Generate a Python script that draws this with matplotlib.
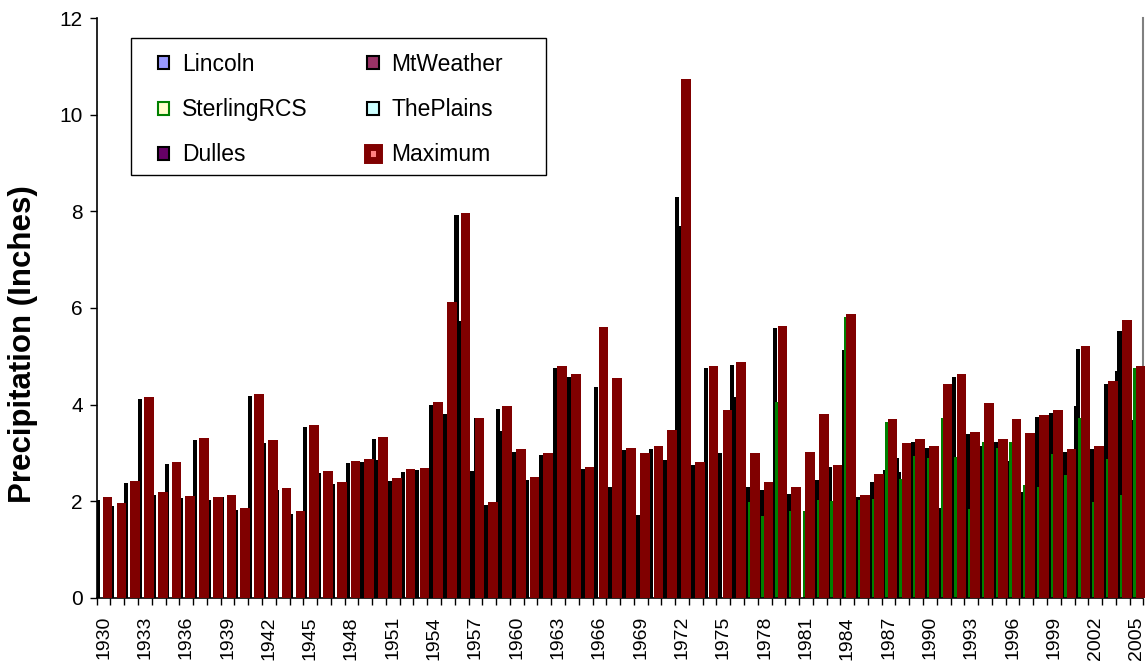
import numpy as np
import matplotlib.pyplot as plt
from matplotlib.patches import Patch, Rectangle

plt.rcParams['font.family'] = ['Liberation Sans', 'DejaVu Sans']

nan = np.nan
years = list(range(1930, 2006))

# 값은 그림에서 읽은 추정치 (인치)
maximum = [2.08, 1.96, 2.42, 4.16, 2.19, 2.81, 2.12, 3.31, 2.08, 2.13,
           1.87, 4.23, 3.26, 2.28, 1.79, 3.58, 2.62, 2.40, 2.83, 2.87,
           3.34, 2.48, 2.67, 2.69, 4.05, 6.12, 7.97, 3.73, 1.99, 3.98,
           3.08, 2.50, 3.01, 4.81, 4.63, 2.71, 5.60, 4.55, 3.11, 3.01,
           3.14, 3.48, 10.74, 2.81, 4.81, 3.88, 4.88, 3.00, 2.40, 5.63,
           2.30, 3.02, 3.81, 2.75, 5.87, 2.13, 2.57, 3.70, 3.21, 3.28,
           3.15, 4.42, 4.63, 3.44, 4.03, 3.28, 3.70, 3.41, 3.79, 3.88,
           3.08, 5.21, 3.14, 4.48, 5.75, 4.80]

lincoln = [2.03, 1.90, 2.37, 4.11, 2.14, 2.77, 2.06, 3.26, 2.03, 2.08,
           1.82, 4.18, 3.21, 2.23, 1.74, 3.53, 2.58, 2.36, nan, nan,
           3.29, nan, nan, nan, nan, nan, 7.92, nan, nan, 3.92,
           nan, nan, nan, nan, nan, nan, nan, nan, nan, nan,
           nan, nan, 8.29, nan, nan, nan, 4.82, nan, nan, nan,
           nan, nan, nan, nan, nan, nan, nan, nan, 2.89, nan,
           2.75, nan, nan, nan, nan, nan, nan, nan, nan, nan,
           nan, 3.98, nan, nan, 4.70, nan]

mtweather = [nan, nan, nan, nan, nan, nan, nan, nan, nan, nan,
             nan, nan, nan, nan, nan, nan, nan, nan, 2.79, 2.81,
             2.86, 2.43, 2.61, 2.64, 3.99, 3.81, 5.73, 2.63, 1.93, 3.46,
             3.03, 2.44, 2.96, 4.75, 4.58, 2.66, 4.36, 2.30, 3.06, 1.72,
             3.09, 2.86, 7.70, 2.75, 4.75, 3.01, 4.15, 2.30, 2.23, 5.58,
             2.15, nan, 2.44, 2.71, 5.13, 2.08, 2.41, 2.65, 2.61, 3.23,
             3.10, 1.87, 4.58, 3.39, 3.15, 3.23, 2.83, 2.19, 3.74, 3.82,
             3.03, 5.15, 3.08, 4.43, 5.53, 3.68]

sterling = [nan] * 47 + [1.99, 1.69, 4.05,
                         1.81, 1.80, 2.03, 2.00, 5.82, 2.03, 2.05, 3.65, 2.46, 2.93,
                         2.89, 3.72, 2.92, 1.84, 3.23, 3.10, 3.23, 2.33, 2.30, 2.97,
                         2.55, 3.73, 1.98, 2.88, 2.13, 4.75]

theplains = [nan] * 76
theplains[25] = 6.07   # 1955
theplains[27] = 3.73   # 1957
theplains[64] = 3.98   # 1994

dulles = [nan] * 76
for yr, v in [(1966, 5.60), (1967, 4.55), (1969, 3.01), (1971, 3.48), (1972, 10.74),
              (1975, 3.88), (1977, 3.00), (1981, 3.02), (1982, 3.81), (1986, 2.57),
              (1988, 3.21), (1991, 4.42), (1996, 3.70), (1997, 3.41)]:
    dulles[yr - 1930] = v

x = np.arange(len(years))

W, H = 1146, 662
fig = plt.figure(figsize=(W / 100, H / 100), dpi=100)
ax = fig.add_axes([0.0844, 0.0967, 0.9133, 0.8761])

# 관측소 막대 (겹쳐서 그림) + 최대값 막대
w = 0.30
ax.bar(x - 0.03, lincoln, w, align='edge', color='black', lw=0, zorder=2.0)
ax.bar(x + 0.12, mtweather, w, align='edge', color='black', lw=0, zorder=2.1)
ax.bar(x + 0.27, sterling, w, align='edge', color='#008000', lw=0, zorder=2.2)
ax.bar(x + 0.42, theplains, w, align='edge', color='black', lw=0, zorder=2.3)
ax.bar(x + 0.57, dulles, w, align='edge', color='black', lw=0, zorder=2.4)
bars = ax.bar(x + 0.44, maximum, 0.70, align='edge', color='#800000', lw=0, zorder=3)
for b in bars:
    b.set_clip_on(False)

ax.set_xlim(0, 76)
ax.set_ylim(0, 12)
ax.set_yticks(range(0, 13, 2))
ax.tick_params(axis='y', labelsize=15, length=5, width=1, pad=5)

ax.set_xticks(x + 0.5)
ax.set_xticklabels([str(y) if (y - 1930) % 3 == 0 else '' for y in years],
                   rotation=90, fontsize=14)
ax.set_xticks(np.arange(0, 77), minor=True)
ax.tick_params(axis='x', which='major', length=0, pad=13)
ax.tick_params(axis='x', which='minor', length=5, width=1)

ax.set_ylabel('Precipitation (Inches)', fontsize=22.5, fontweight='bold', va='center')
ax.yaxis.set_label_coords(-0.0709, 0.438)

ax.spines['top'].set_visible(False)
ax.spines['right'].set_color('#808080')
ax.spines['right'].set_linewidth(1.5)
ax.spines['left'].set_linewidth(1.2)
ax.spines['bottom'].set_linewidth(1.2)

# 범례 테두리는 따로 그림 (픽셀 위치 기준)
frame = Rectangle((131 / W, 1 - 175 / H), 415 / W, 137 / H, transform=fig.transFigure,
                  facecolor='white', edgecolor='black', lw=1, zorder=4)
fig.patches.append(frame)

handles = [
    Patch(facecolor='#9999FF', edgecolor='black', lw=1.5, label='Lincoln'),
    Patch(facecolor='#FFFFCC', edgecolor='#008000', lw=1.5, label='SterlingRCS'),
    Patch(facecolor='#660066', edgecolor='black', lw=1.5, label='Dulles'),
    Patch(facecolor='#993366', edgecolor='black', lw=1.5, label='MtWeather'),
    Patch(facecolor='#CCFFFF', edgecolor='black', lw=1.5, label='ThePlains'),
    Patch(facecolor='#FF8080', edgecolor='#800000', lw=5, label='Maximum'),
]
leg = fig.legend(handles=handles, ncol=2, loc='upper left',
                 bbox_to_anchor=(158 / W, 1 - 53 / H), borderaxespad=0,
                 fontsize=16.5, frameon=False,
                 handlelength=0.5, handleheight=0.5, handletextpad=0.55,
                 labelspacing=0.97, columnspacing=2.6, borderpad=0)
leg.set_zorder(5)

fig.savefig('out.png', dpi=100)
